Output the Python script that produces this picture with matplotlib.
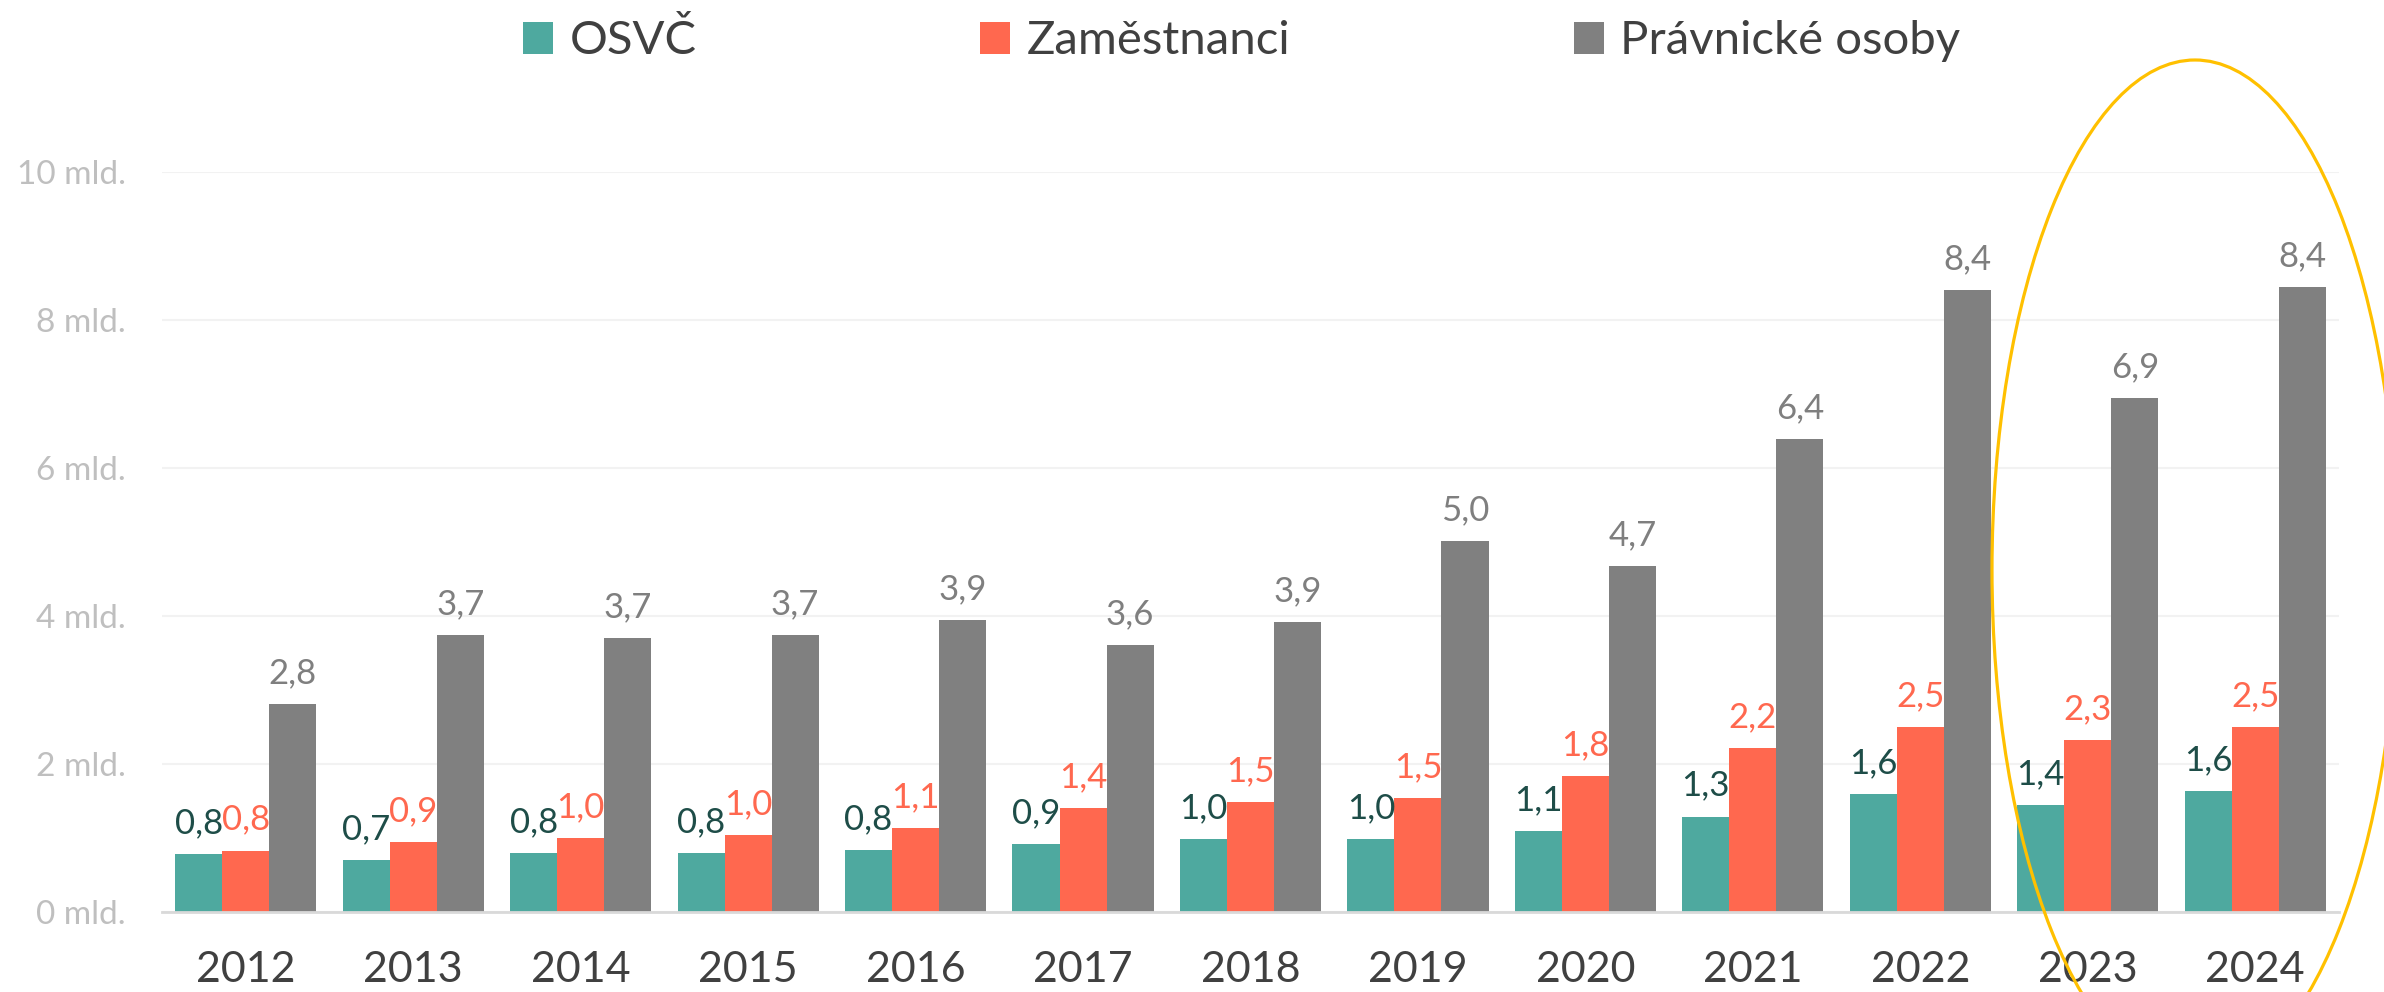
import matplotlib
matplotlib.use("Agg")
import matplotlib.pyplot as plt
from matplotlib.patches import Ellipse, Patch
import numpy as np

years = ["2012", "2013", "2014", "2015", "2016", "2017", "2018",
         "2019", "2020", "2021", "2022", "2023", "2024"]
osvc = [0.78, 0.70, 0.80, 0.80, 0.84, 0.92, 0.98, 0.98, 1.10, 1.29, 1.60, 1.44, 1.63]
zamestnanci = [0.83, 0.94, 1.00, 1.04, 1.13, 1.40, 1.48, 1.54, 1.84, 2.22, 2.50, 2.32, 2.50]
pravnicke = [2.81, 3.74, 3.70, 3.74, 3.94, 3.61, 3.92, 5.01, 4.68, 6.39, 8.40, 6.94, 8.44]
series_names = ["OSVČ", "Zaměstnanci", "Právnické osoby"]
yticks = [0, 2, 4, 6, 8, 10]

bar_colors = ["#4EA99F", "#FF684F", "#808080"]
label_colors = ["#1E4D48", "#FF684F", "#7F7F7F"]
FONT = ["Lato", "DejaVu Sans"]

plt.rcParams["font.family"] = FONT

fig = plt.figure(figsize=(23.84, 9.92), dpi=100)
ax = fig.add_axes([162 / 2384, 1 - 912 / 992, (2339 - 162) / 2384, 740 / 992])

x = np.arange(len(years))
w = 0.281
for i, vals in enumerate([osvc, zamestnanci, pravnicke]):
    pos = x + (i - 1) * w
    ax.bar(pos, vals, width=w, color=bar_colors[i], linewidth=0, zorder=2)
    for xp, v in zip(pos, vals):
        ax.annotate(f"{v:.1f}".replace(".", ","), (xp, v), xytext=(0, 15),
                    textcoords="offset points", ha="center", va="baseline",
                    fontsize=25, color=label_colors[i], clip_on=False)

ax.set_xlim(-0.5, len(years) - 0.5)
ax.set_ylim(0, 10)
ax.set_yticks(yticks)
ax.set_yticklabels([f"{t} mld." for t in yticks], fontsize=24, color="#BFBFBF")
ax.set_xticks(x)
ax.set_xticklabels(years, fontsize=31, color="#404040")
ax.tick_params(axis="y", length=0, pad=26)
ax.tick_params(axis="x", length=0, pad=28)
ax.grid(axis="y", color="#F2F2F2", linewidth=1.5, zorder=0)
ax.set_axisbelow(True)
for s in ["top", "right", "left"]:
    ax.spines[s].set_visible(False)
ax.spines["bottom"].set_color("#D9D9D9")
ax.spines["bottom"].set_linewidth(2)
ax.spines["bottom"].set_zorder(3)

# highlight ellipse around last two years (figure pixel based)
cx_px, cy_px, wa_px, hb_px = 2195, 570, 406, 1020
ell = Ellipse((cx_px / 2384, 1 - cy_px / 992), wa_px / 2384, hb_px / 992,
              transform=fig.transFigure, fill=False, edgecolor="#FFC000",
              linewidth=2.3, clip_on=False, zorder=5)
fig.patches.append(ell)

handles = [Patch(facecolor=c, edgecolor="none") for c in bar_colors]
fig.legend(handles, series_names, loc="center", bbox_to_anchor=(0.5208, 1 - 41 / 992),
           ncol=3, frameon=False, fontsize=34, handlelength=0.64, handleheight=0.64,
           handletextpad=0.35, columnspacing=6.0, borderpad=0, labelcolor="#404040")

fig.savefig("out.png", dpi=100, facecolor="white")
